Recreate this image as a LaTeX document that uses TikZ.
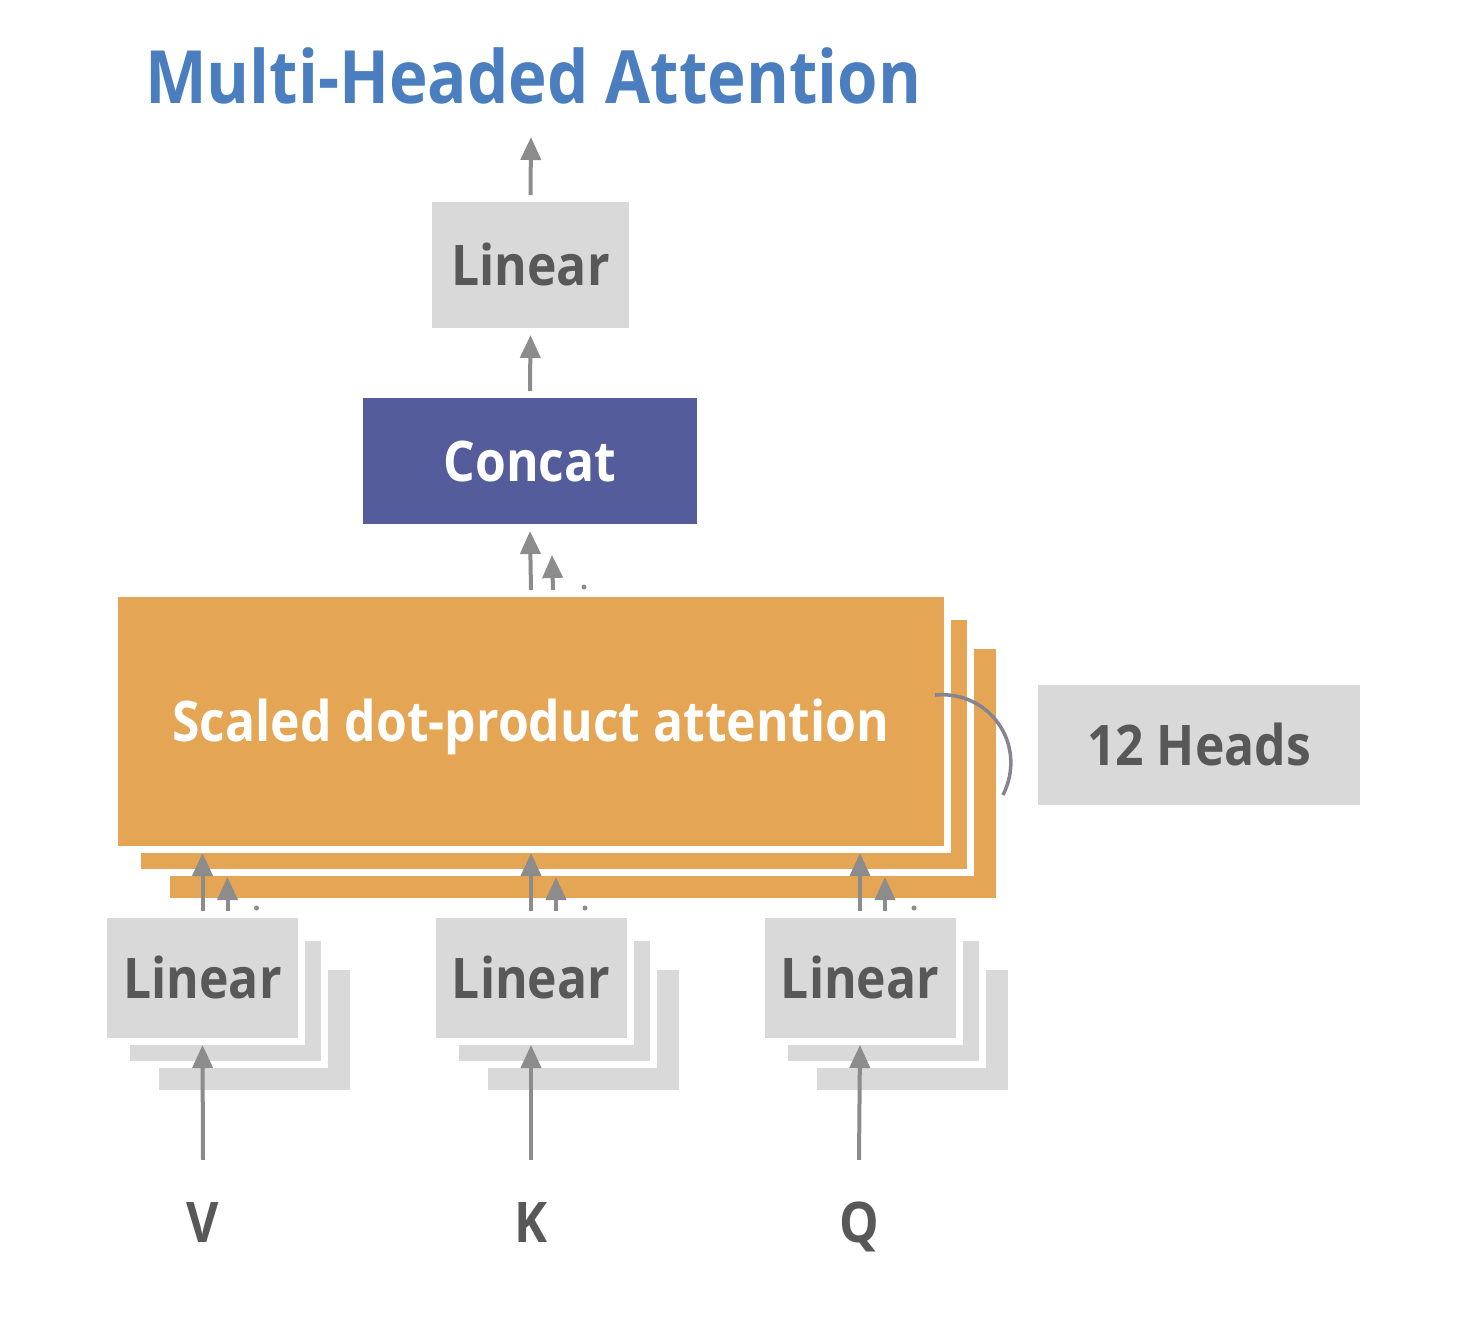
\documentclass[tikz,border=0pt]{standalone}
\usepackage{fontspec}
\setmainfont{Open Sans}[BoldFeatures={FakeStretch=0.89}]
\usetikzlibrary{arrows.meta,calc}

\definecolor{titleblue}{RGB}{74,126,191}
\definecolor{boxgray}{RGB}{217,217,217}
\definecolor{textgray}{RGB}{88,88,88}
\definecolor{arrowgray}{RGB}{140,140,140}
\definecolor{concatblue}{RGB}{84,92,156}
\definecolor{attorange}{RGB}{228,166,84}

\newcommand{\lblfont}{\fontsize{56}{60}\selectfont\bfseries}

\tikzset{
  layer/.style={draw=white, line width=7, inner sep=0, text height=40, text depth=0, font=\lblfont},
  graylayer/.style={layer, fill=boxgray, text=textgray},
  inlabel/.style={font=\lblfont, text=textgray, inner sep=0, text height=40, text depth=0},
  arr/.style={draw=arrowgray, line width=4, -{Triangle[length=23,width=20]}},
}

\begin{document}
\begin{tikzpicture}[x=1pt,y=1pt,yscale=-1,xscale=1]
\useasboundingbox (0,0) rectangle (1474,1334);

% Text Node
\node[anchor=base west, inner sep=0, text=titleblue, font=\fontsize{73.5}{80}\selectfont\bfseries] (title) at (145,103) {Multi-Headed Attention};

%Shape: Rectangle (output linear)
\node[graylayer, minimum width=204, minimum height=133] (lout) at (530.5,265) {Linear};
\coordinate (out) at (531,137);

%Shape: Rectangle (concat)
\node[layer, fill=concatblue, text=white, minimum width=341, minimum height=133] (concat) at (530,461) {Concat};

%Shape: Rectangle (attention heads, back to front)
\node[layer, fill=attorange, minimum width=833, minimum height=256] (att3) at (583,773.5) {};
\node[layer, fill=attorange, minimum width=833, minimum height=256] (att2) at (554,744.5) {};
\node[layer, fill=attorange, text=white, minimum width=833, minimum height=256] (att) at (531,721.5) {Scaled dot-product attention};

%Shape: Rectangle (heads)
\node[graylayer, minimum width=329, minimum height=127] (heads) at (1199,745) {12 Heads};

%Shape: Rectangle (linear stacks V, K, Q)
\foreach \nm/\cx in {lv/202.5, lk/531, lq/860}{
  \node[graylayer, minimum width=198, minimum height=127] (\nm3) at (\cx+52,1030) {};
  \node[graylayer, minimum width=198, minimum height=127] (\nm2) at (\cx+23,1001) {};
  \node[graylayer, minimum width=198, minimum height=127] (\nm) at (\cx,978) {Linear};
}

% Text Node
\node[inlabel] (v) at (203,1222) {V};
% Text Node
\node[inlabel] (k) at (531,1222) {K};
% Text Node
\node[inlabel] (q) at (859,1222) {Q};

%Straight Lines (upward flow)
\draw[arr] (lout.north) -- (out);
\draw[arr] (concat.north) -- (lout.south);
\draw[arr] (att.north) -- (concat.south);
\draw[arr] ($(att.north)+(22,0)$) -- ($(concat.south)+(22,24)$);
\fill[arrowgray] ($(att.north)+(53,-3)$) circle (2.5);

\foreach \nm/\lb in {lv/v, lk/k, lq/q}{
  \draw[arr] ($(\lb.north)+(0,-42)$) -- (\nm.south);
  \draw[arr] (\nm.north) -- (\nm.north |- att.south);
  \draw[arr] ($(\nm.north)+(25,0)$) -- ($(\nm.north |- att.south)+(25,24)$);
  \fill[arrowgray] ($(\nm.north)+(54,-3)$) circle (2.5);
}

%Curve (stack bracket)
\draw[draw=arrowgray!95!blue, line width=3.5] (935,695) .. controls (990,690) and (1028,745) .. (1003,795);

\end{tikzpicture}
\end{document}
